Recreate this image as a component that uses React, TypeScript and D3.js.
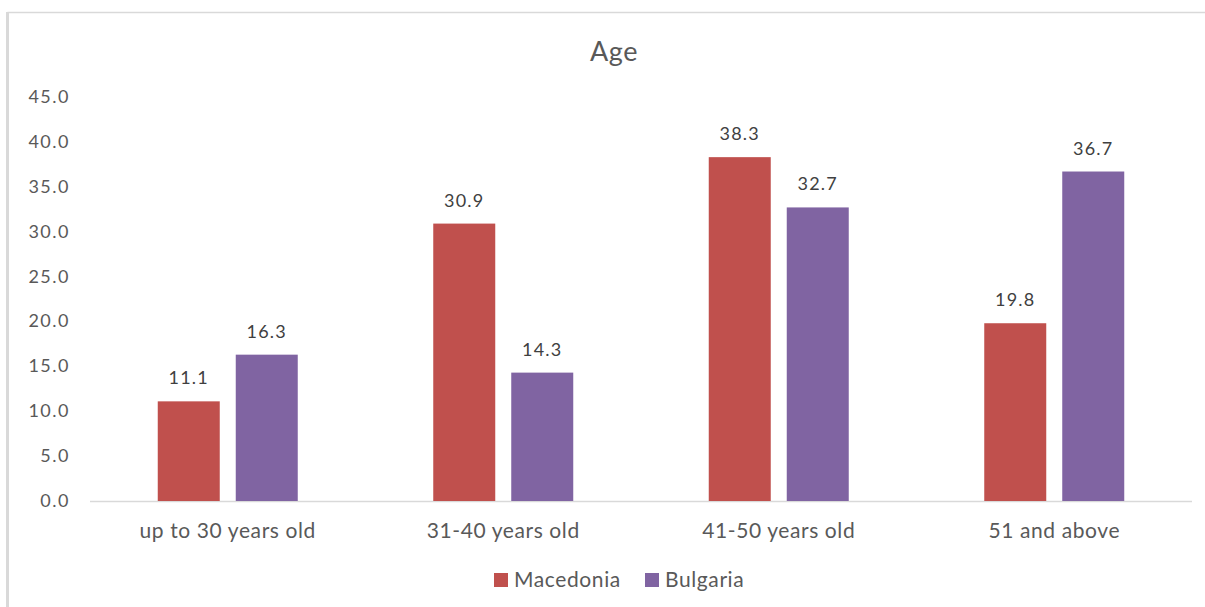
import React from "react";
import * as d3 from "d3";

const categories = ["up to 30 years old", "31-40 years old", "41-50 years old", "51 and above"];
const seriesNames = ["Macedonia", "Bulgaria"];
const macedonia = [11.1, 30.9, 38.3, 19.8];
const bulgaria = [16.3, 14.3, 32.7, 36.7];
const yTicks = [0, 5, 10, 15, 20, 25, 30, 35, 40, 45];
const colors = ["#C0504D", "#8064A2"];

const W = 1205;
const H = 607;
const plot = { left: 90, right: 1192, top: 97, bottom: 501 };
const font = "Lato, 'Open Sans', sans-serif";
const textColor = "#595959";

export default function App() {
  const x = d3.scaleBand<string>().domain(categories).range([plot.left, plot.right]).paddingInner(0).paddingOuter(0);
  const y = d3.scaleLinear().domain([0, 45]).range([plot.bottom, plot.top]);
  const barW = 62;
  const gap = 16;
  const series = [macedonia, bulgaria];

  return (
    <svg width={W} height={H} style={{ position: "absolute", left: 0, top: 0, background: "#fff" }} fontFamily={font}>
      <rect x={0} y={0} width={W} height={H} fill="#fff" />
      {/* chart frame */}
      <line x1={7.5} x2={W} y1={12.5} y2={12.5} stroke="#d9d9d9" strokeWidth={1.5} />
      <line x1={7.5} x2={7.5} y1={12} y2={H} stroke="#d9d9d9" strokeWidth={3} />

      <text x={614} y={61} textAnchor="middle" fontSize={27} letterSpacing={0.5} fill={textColor}>Age</text>

      {yTicks.map((t) => (
        <text key={t} x={70} y={y(t) + 6} textAnchor="end" fontSize={18} letterSpacing={1.5} fill={textColor}>
          {t.toFixed(1)}
        </text>
      ))}

      <line x1={plot.left} x2={plot.right} y1={plot.bottom + 0.5} y2={plot.bottom + 0.5} stroke="#d9d9d9" strokeWidth={1.5} />

      {categories.map((c, i) => {
        const cx = (x(c) as number) + x.bandwidth() / 2;
        return (
          <g key={c}>
            {series.map((s, j) => {
              const bx = j === 0 ? cx - gap / 2 - barW : cx + gap / 2;
              const v = s[i];
              return (
                <g key={j}>
                  <rect x={bx} y={y(v)} width={barW} height={plot.bottom - y(v)} fill={colors[j]} />
                  <text x={bx + barW / 2} y={y(v) - 17} textAnchor="middle" fontSize={18} letterSpacing={1.2} fill="#404040">
                    {v.toFixed(1)}
                  </text>
                </g>
              );
            })}
            <text x={cx} y={538} textAnchor="middle" fontSize={21} letterSpacing={0.6} fill={textColor}>{c}</text>
          </g>
        );
      })}

      {seriesNames.map((n, j) => {
        const lx = j === 0 ? 494 : 645;
        return (
          <g key={n}>
            <rect x={lx} y={573} width={14} height={14} fill={colors[j]} />
            <text x={lx + 20} y={587} fontSize={21} letterSpacing={0.6} fill={textColor}>{n}</text>
          </g>
        );
      })}
    </svg>
  );
}
